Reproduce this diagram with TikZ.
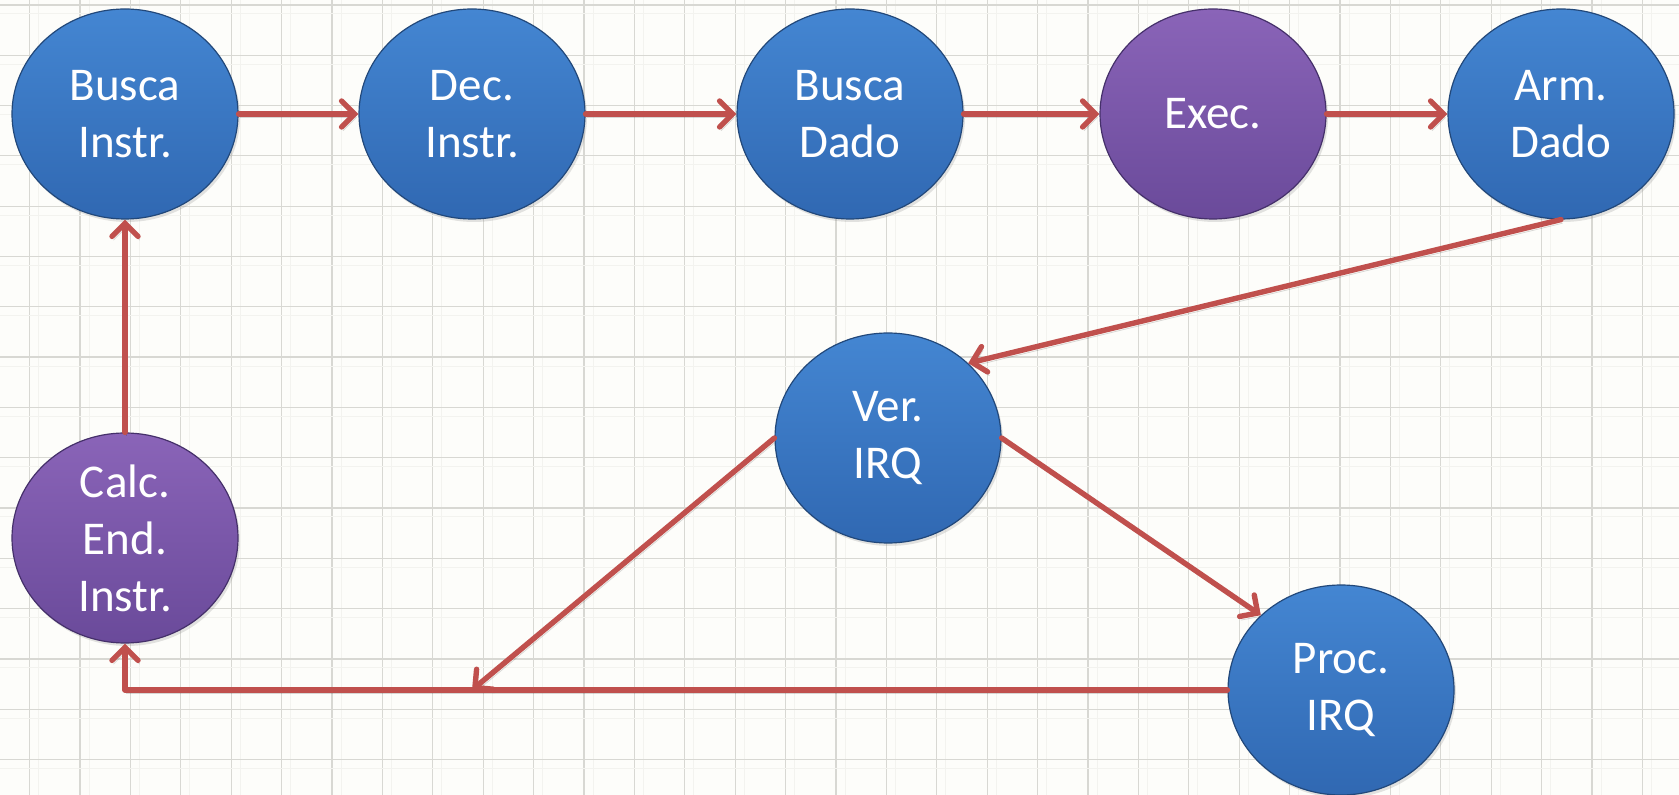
\documentclass[tikz,border=0pt]{standalone}
\usepackage{fontspec}
\setmainfont{Carlito}
\usetikzlibrary{shapes.geometric,arrows.meta,shadows}

\definecolor{paper}{HTML}{FDFDFA}
\definecolor{gridc}{HTML}{D8D8D3}
\definecolor{gridfaint}{HTML}{F3F3EF}
\definecolor{blueTop}{HTML}{4486D2}
\definecolor{blueBot}{HTML}{3068B2}
\definecolor{blueEdge}{HTML}{22487A}
\definecolor{purpTop}{HTML}{8A64B8}
\definecolor{purpBot}{HTML}{6A4A9A}
\definecolor{purpEdge}{HTML}{45306A}
\definecolor{flow}{HTML}{C0504D}

\tikzset{
  stage/.style={ellipse, minimum width=113pt, minimum height=105pt, inner sep=0pt,
    align=center, text=white, font=\fontsize{23.5}{28.5}\selectfont,
    line width=0.6pt,
    drop shadow={opacity=0.22, shadow xshift=1pt, shadow yshift=-1.5pt}},
  bluestage/.style={stage, draw=blueEdge, top color=blueTop, bottom color=blueBot},
  purplestage/.style={stage, draw=purpEdge, top color=purpTop, bottom color=purpBot},
  flowline/.style={draw=flow, line width=2.7pt, line cap=round, line join=round,
    -{Straight Barb[length=6.5pt, width=13pt, line cap=round]},
    preaction={draw=black, opacity=0.15, transform canvas={shift={(0.8pt,-1.8pt)}}}},
  gridline/.style={draw=gridc, line width=0.6pt},
  gridminor/.style={draw=gridfaint, line width=0.5pt}
}

\begin{document}
\begin{tikzpicture}[x=0.5pt, y=-0.5pt]
  % paper background
  \fill[paper] (0,0) rectangle (1679,795);
  \useasboundingbox (0,0) rectangle (1679,795);

  % graph-paper grid
  \foreach \i in {0,...,32} {
    \draw[gridminor] ({29.6+50.4*\i+9},0) -- ++(0,795);
    \draw[gridline] ({29.6+50.4*\i},0) -- ++(0,795);
  }
  \foreach \j in {0,...,15} {
    \draw[gridminor] (0,{5+50.3*\j+9}) -- ++(1679,0);
    \draw[gridline] (0,{5+50.3*\j}) -- ++(1679,0);
  }

  % pipeline stages
  \node[bluestage]   (bi) at (125,114)  {Busca\\Instr.};
  \node[bluestage]   (di) at (472,114)  {Dec.\\Instr.};
  \node[bluestage]   (bd) at (850,114)  {Busca\\Dado};
  \node[purplestage] (ex) at (1213,114) {Exec.};
  \node[bluestage]   (ad) at (1561,114) {Arm.\\Dado};
  \node[bluestage]   (vi) at (888,438)  {Ver.\\IRQ};
  \node[purplestage] (ce) at (125,538)  {Calc.\\End.\\Instr.};
  \node[bluestage]   (pi) at (1341,690) {Proc.\\IRQ};

  \coordinate (join) at (472,690);

  % connectors
  \draw[flowline] (bi) -- (di);
  \draw[flowline] (di) -- (bd);
  \draw[flowline] (bd) -- (ex);
  \draw[flowline] (ex) -- (ad);
  \draw[flowline] (ad.south) -- (vi.43);
  \draw[flowline] (vi.east) -- (pi.137);
  \draw[flowline] (vi.west) -- (join);
  \draw[flowline] (pi.west) -| (ce.south);
  \draw[flowline] (ce.north) -- (bi.south);
\end{tikzpicture}
\end{document}
